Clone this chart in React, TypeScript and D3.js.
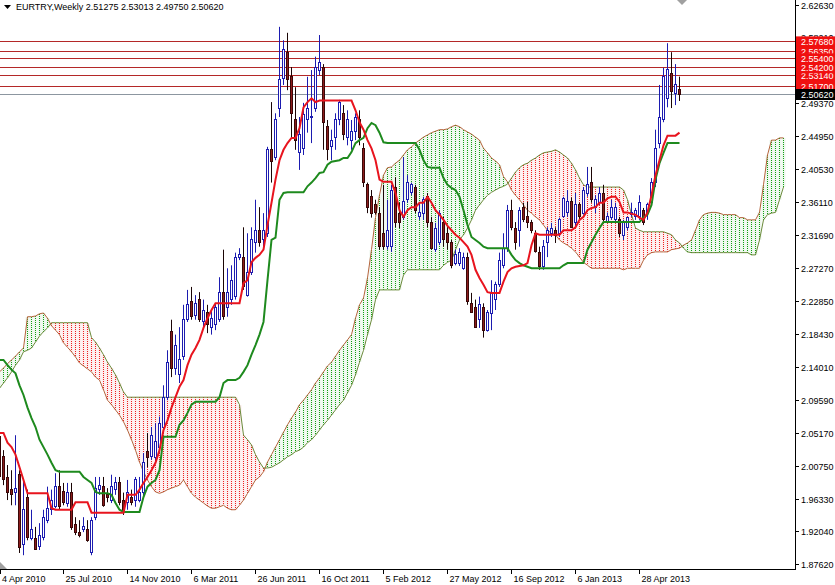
import React from 'react';
import * as d3 from 'd3';

const title = 'EURTRY,Weekly  2.51275 2.53013 2.49750 2.50620';

const openP = [
2.047,2.020,1.992,1.976,1.972,1.996,1.902,1.965,1.911,1.911,
1.900,1.912,1.935,1.949,1.953,1.980,1.973,1.958,1.972,1.929,
1.919,1.922,1.922,1.891,1.938,1.976,1.980,1.969,1.962,1.976,
1.986,1.962,1.959,1.966,1.962,1.962,1.972,2.027,2.020,2.019,
2.032,2.060,2.100,2.188,2.139,2.130,2.154,2.204,2.228,2.210,
2.231,2.201,2.214,2.194,2.197,2.204,2.241,2.221,2.231,2.235,
2.287,2.288,2.237,2.267,2.308,2.324,2.311,2.320,2.432,2.422,
2.488,2.528,2.562,2.530,2.472,2.429,2.434,2.472,2.475,2.488,
2.539,2.542,2.463,2.436,2.449,2.472,2.481,2.449,2.445,2.456,
2.472,2.434,2.385,2.369,2.358,2.347,2.320,2.302,2.302,2.382,
2.347,2.341,2.365,2.375,2.381,2.342,2.347,2.369,2.334,2.298,
2.307,2.334,2.320,2.307,2.280,2.280,2.273,2.287,2.226,2.220,
2.204,2.220,2.190,2.213,2.231,2.251,2.277,2.300,2.351,2.327,
2.324,2.354,2.342,2.334,2.320,2.294,2.275,2.307,2.320,2.324,
2.320,2.342,2.348,2.362,2.334,2.358,2.347,2.374,2.388,2.355,
2.361,2.374,2.335,2.341,2.338,2.338,2.317,2.328,2.345,2.342,
2.342,2.351,2.348,2.361,2.388,2.441,2.472,2.501,2.535,2.508,
2.51275];
const highP = [
2.056,2.029,2.009,2.002,2.049,2.002,1.989,1.976,1.949,1.926,
1.931,1.949,1.980,1.976,1.998,2.002,1.985,1.985,1.985,1.939,
1.935,1.939,1.935,1.939,1.993,1.993,1.993,1.978,1.996,1.993,
1.993,1.972,1.989,1.976,1.993,1.993,2.025,2.052,2.060,2.065,
2.074,2.116,2.163,2.204,2.184,2.194,2.224,2.244,2.248,2.237,
2.241,2.231,2.224,2.217,2.226,2.261,2.298,2.273,2.277,2.294,
2.300,2.328,2.320,2.328,2.365,2.355,2.347,2.436,2.496,2.481,
2.597,2.579,2.589,2.543,2.516,2.476,2.495,2.530,2.539,2.557,
2.586,2.547,2.472,2.459,2.481,2.499,2.492,2.485,2.472,2.481,
2.485,2.441,2.388,2.378,2.365,2.355,2.385,2.365,2.385,2.395,
2.361,2.422,2.398,2.388,2.385,2.361,2.369,2.374,2.342,2.334,
2.351,2.342,2.328,2.311,2.298,2.300,2.294,2.294,2.240,2.231,
2.235,2.226,2.217,2.257,2.255,2.294,2.320,2.358,2.365,2.335,
2.355,2.361,2.362,2.338,2.324,2.302,2.311,2.328,2.334,2.328,
2.341,2.369,2.378,2.368,2.374,2.361,2.382,2.409,2.409,2.371,
2.382,2.385,2.348,2.365,2.361,2.342,2.338,2.342,2.361,2.354,
2.371,2.354,2.361,2.394,2.459,2.519,2.542,2.575,2.563,2.547,
2.53013];
const lowP = [
1.989,1.982,1.962,1.955,1.955,1.891,1.888,1.908,1.908,1.895,
1.895,1.908,1.931,1.942,1.951,1.949,1.955,1.953,1.922,1.915,
1.912,1.919,1.906,1.888,1.935,1.969,1.953,1.959,1.958,1.969,
1.955,1.942,1.949,1.955,1.953,1.959,1.966,2.006,2.016,2.012,
2.025,2.056,2.096,2.127,2.130,2.119,2.150,2.201,2.204,2.204,
2.201,2.193,2.186,2.184,2.190,2.201,2.204,2.208,2.224,2.231,
2.284,2.244,2.235,2.264,2.294,2.302,2.298,2.315,2.388,2.418,
2.476,2.519,2.512,2.449,2.432,2.405,2.425,2.455,2.441,2.483,
2.532,2.432,2.418,2.418,2.432,2.465,2.445,2.438,2.432,2.445,
2.438,2.382,2.347,2.341,2.345,2.298,2.298,2.298,2.295,2.328,
2.327,2.338,2.361,2.371,2.347,2.338,2.338,2.328,2.298,2.295,
2.304,2.302,2.298,2.273,2.277,2.276,2.271,2.224,2.213,2.193,
2.193,2.180,2.188,2.190,2.217,2.248,2.273,2.295,2.324,2.298,
2.302,2.335,2.327,2.320,2.294,2.271,2.271,2.288,2.315,2.307,
2.315,2.341,2.342,2.327,2.328,2.338,2.345,2.369,2.361,2.347,
2.358,2.335,2.334,2.338,2.334,2.315,2.311,2.324,2.342,2.338,
2.338,2.331,2.338,2.358,2.382,2.434,2.469,2.489,2.488,2.492,
2.4975];
const closeP = [
1.993,1.989,1.972,1.969,1.978,1.899,1.949,1.912,1.922,1.895,
1.914,1.938,1.951,1.962,1.980,1.953,1.959,1.972,1.925,1.918,
1.915,1.926,1.908,1.935,1.978,1.982,1.955,1.965,1.980,1.985,
1.959,1.946,1.972,1.959,1.989,1.972,2.012,2.019,2.049,2.040,
2.065,2.100,2.147,2.139,2.170,2.150,2.204,2.224,2.208,2.226,
2.204,2.217,2.197,2.206,2.220,2.241,2.208,2.241,2.257,2.287,
2.291,2.248,2.267,2.311,2.324,2.308,2.324,2.432,2.416,2.472,
2.526,2.566,2.526,2.481,2.445,2.452,2.479,2.488,2.477,2.542,
2.549,2.468,2.432,2.445,2.472,2.495,2.452,2.472,2.456,2.475,
2.449,2.388,2.355,2.347,2.348,2.302,2.302,2.324,2.378,2.334,
2.335,2.362,2.388,2.385,2.351,2.348,2.365,2.334,2.300,2.327,
2.347,2.311,2.307,2.277,2.291,2.294,2.287,2.228,2.214,2.194,
2.224,2.190,2.214,2.240,2.251,2.284,2.300,2.351,2.328,2.308,
2.351,2.338,2.334,2.324,2.295,2.275,2.302,2.324,2.327,2.317,
2.338,2.367,2.362,2.328,2.358,2.342,2.378,2.385,2.365,2.365,
2.374,2.338,2.342,2.355,2.355,2.320,2.334,2.341,2.348,2.351,
2.361,2.335,2.358,2.388,2.434,2.475,2.530,2.540,2.510,2.520,
2.5062];

const tenkan = [
2.052,2.052,2.039,2.033,2.023,2.006,1.989,1.971,1.971,1.971,
1.971,1.971,1.971,1.951,1.949,1.949,1.949,1.949,1.949,1.959,
1.959,1.959,1.959,1.945,1.945,1.945,1.945,1.945,1.945,1.945,
1.945,1.945,1.969,1.969,1.969,1.976,1.985,1.993,2.002,2.012,
2.029,2.056,2.069,2.086,2.100,2.114,2.123,2.143,2.157,2.166,
2.177,2.193,2.206,2.217,2.226,2.226,2.226,2.226,2.226,2.226,
2.226,2.253,2.257,2.281,2.287,2.291,2.298,2.331,2.361,2.392,
2.418,2.432,2.441,2.448,2.448,2.461,2.489,2.496,2.501,2.496,
2.498,2.498,2.498,2.498,2.498,2.498,2.498,2.498,2.498,2.485,
2.469,2.459,2.445,2.434,2.418,2.392,2.389,2.389,2.389,2.374,
2.351,2.342,2.351,2.355,2.355,2.361,2.361,2.369,2.361,2.351,
2.345,2.338,2.330,2.324,2.318,2.314,2.308,2.302,2.291,2.271,
2.260,2.251,2.241,2.240,2.240,2.240,2.255,2.268,2.273,2.275,
2.276,2.277,2.280,2.304,2.320,2.318,2.318,2.318,2.318,2.318,
2.318,2.324,2.324,2.324,2.328,2.338,2.342,2.351,2.354,2.355,
2.361,2.361,2.367,2.369,2.369,2.362,2.348,2.348,2.346,2.345,
2.341,2.338,2.348,2.371,2.398,2.418,2.438,2.451,2.451,2.451,
2.455];

const kijun = [
2.150,2.150,2.143,2.137,2.132,2.116,2.103,2.086,2.072,2.060,
2.043,2.033,2.023,2.012,2.002,2.000,2.000,2.000,2.000,2.000,
2.000,1.993,1.989,1.985,1.973,1.971,1.971,1.971,1.969,1.958,
1.949,1.946,1.946,1.946,1.946,1.946,1.966,1.980,1.985,1.989,
2.002,2.047,2.047,2.047,2.047,2.063,2.069,2.079,2.090,2.094,
2.094,2.094,2.094,2.094,2.094,2.100,2.119,2.123,2.123,2.123,
2.126,2.134,2.143,2.157,2.170,2.184,2.201,2.257,2.311,2.314,
2.365,2.374,2.375,2.375,2.375,2.375,2.375,2.383,2.388,2.394,
2.401,2.402,2.412,2.416,2.417,2.418,2.421,2.421,2.429,2.441,
2.445,2.448,2.461,2.468,2.465,2.455,2.442,2.441,2.441,2.441,
2.441,2.441,2.441,2.441,2.441,2.432,2.418,2.409,2.408,2.408,
2.408,2.394,2.385,2.381,2.378,2.369,2.351,2.331,2.315,2.311,
2.307,2.302,2.300,2.300,2.300,2.300,2.300,2.300,2.291,2.284,
2.280,2.277,2.275,2.273,2.273,2.273,2.273,2.273,2.273,2.273,
2.273,2.277,2.280,2.280,2.280,2.280,2.280,2.298,2.308,2.318,
2.327,2.335,2.335,2.335,2.335,2.335,2.335,2.335,2.335,2.335,
2.335,2.341,2.345,2.358,2.392,2.414,2.428,2.441,2.441,2.441,
2.441];

const spanA = [
2.134,2.139,2.145,2.150,2.155,2.161,2.166,2.208,2.208,2.209,
2.212,2.213,2.206,2.196,2.190,2.184,2.173,2.167,2.161,2.154,
2.146,2.142,2.138,2.134,2.127,2.123,2.110,2.096,2.090,2.083,
2.076,2.067,2.056,2.043,2.029,2.013,2.000,1.989,1.980,1.973,
1.971,1.973,1.976,1.978,1.980,1.982,1.989,1.980,1.971,1.966,
1.962,1.958,1.954,1.951,1.951,1.953,1.955,1.951,1.949,1.949,
1.955,1.962,1.971,1.980,1.989,1.993,2.000,2.013,2.023,2.033,
2.043,2.053,2.063,2.072,2.080,2.090,2.096,2.103,2.110,2.119,
2.126,2.134,2.142,2.147,2.155,2.163,2.170,2.177,2.184,2.206,
2.224,2.233,2.260,2.298,2.341,2.371,2.398,2.408,2.409,2.414,
2.418,2.425,2.432,2.436,2.441,2.445,2.449,2.452,2.455,2.457,
2.459,2.459,2.460,2.463,2.465,2.463,2.459,2.456,2.453,2.449,
2.445,2.434,2.428,2.421,2.417,2.412,2.396,2.389,2.378,2.371,
2.365,2.358,2.351,2.347,2.342,2.338,2.331,2.324,2.320,2.318,
2.311,2.307,2.304,2.300,2.295,2.288,2.281,2.277,2.273,2.273,
2.273,2.273,2.273,2.273,2.273,2.273,2.271,2.273,2.273,2.273,
2.273,2.284,2.291,2.294,2.295,2.295,2.295,2.295,2.298,2.299,
2.300,2.304,2.307,2.311,2.324,2.338,2.345,2.347,2.348,2.348,
2.347,2.345,2.345,2.345,2.345,2.341,2.341,2.338,2.338,2.338,
2.348,2.385,2.425,2.445,2.445,2.448,2.448];

const spanB = [
2.112,2.119,2.126,2.134,2.143,2.150,2.161,2.163,2.166,2.174,
2.182,2.188,2.193,2.200,2.200,2.200,2.200,2.200,2.200,2.200,
2.200,2.200,2.200,2.180,2.174,2.166,2.157,2.147,2.139,2.130,
2.119,2.107,2.100,2.100,2.100,2.100,2.100,2.100,2.100,2.100,
2.100,2.100,2.100,2.100,2.100,2.100,2.100,2.100,2.100,2.100,
2.100,2.100,2.100,2.100,2.100,2.100,2.100,2.100,2.100,2.100,
2.090,2.049,2.043,2.036,2.023,2.013,2.005,2.005,2.006,2.009,
2.012,2.016,2.020,2.023,2.027,2.029,2.033,2.039,2.043,2.049,
2.056,2.063,2.069,2.076,2.083,2.090,2.096,2.106,2.116,2.130,
2.147,2.163,2.184,2.204,2.231,2.244,2.244,2.244,2.244,2.244,
2.244,2.264,2.271,2.271,2.271,2.271,2.271,2.271,2.271,2.271,
2.271,2.277,2.281,2.284,2.298,2.311,2.318,2.327,2.338,2.351,
2.358,2.365,2.371,2.375,2.378,2.381,2.383,2.386,2.394,2.402,
2.408,2.412,2.414,2.418,2.421,2.425,2.428,2.429,2.430,2.432,
2.429,2.425,2.421,2.414,2.405,2.394,2.385,2.382,2.382,2.382,
2.382,2.382,2.382,2.382,2.382,2.382,2.378,2.365,2.345,2.327,
2.324,2.322,2.322,2.322,2.322,2.322,2.322,2.320,2.318,2.311,
2.307,2.300,2.295,2.294,2.294,2.294,2.294,2.294,2.294,2.294,
2.294,2.294,2.294,2.294,2.294,2.294,2.294,2.294,2.291,2.291,
2.311,2.338,2.345,2.347,2.348,2.365,2.382];

const levels = [2.5768, 2.5635, 2.554, 2.5314, 2.542, 2.517];
const lastPrice = 2.5062;
const priceTicks = [2.6263, 2.5821, 2.5379, 2.4937, 2.4495, 2.4053, 2.3611, 2.3169, 2.2727,
  2.2285, 2.1843, 2.1401, 2.0959, 2.0517, 2.0075, 1.9633, 1.9204, 1.8762];
const dateTickBars = [0, 16, 32, 48, 64, 80, 96, 112, 128, 144, 160];
const dateLabels = ['4 Apr 2010', '25 Jul 2010', '14 Nov 2010', '6 Mar 2011', '26 Jun 2011',
  '16 Oct 2011', '5 Feb 2012', '27 May 2012', '16 Sep 2012', '6 Jan 2013', '28 Apr 2013'];

const W = 835, H = 585, AX = 795, AY = 569;
const FONT = "'Liberation Sans', Arial, sans-serif";

export default function App() {
  const x = d3.scaleLinear().domain([0, 170]).range([-0.5, 679.5]);
  const y = d3.scaleLinear().domain([1.8762, 2.6263]).range([564, 5]);
  const sy = (v: number) => Math.round(y(v) - 0.5) + 0.5;
  const fmt = d3.format('.5f');
  const lineGen = d3.line<number>().x((_, i) => x(i)).y(d => y(d));

  const cloud = spanA.map((a, i) => {
    const b = spanB[i];
    const y1 = Math.round(Math.min(y(a), y(b)));
    const y2 = Math.round(Math.max(y(a), y(b)));
    if (y2 - y1 < 1) return null;
    const green = a >= b;
    return (
      <g key={'c' + i}>
        <rect x={x(i) - 2} y={y1} width={4} height={y2 - y1} fill={green ? '#eef8ee' : '#fdeeee'} />
        <line x1={x(i)} x2={x(i)} y1={y1} y2={y2}
          stroke={green ? '#12a012' : '#ee2020'} strokeWidth={1} strokeDasharray="1 1" />
      </g>
    );
  });

  const candles = closeP.map((c, i) => {
    const o = openP[i], h = highP[i], l = lowP[i];
    const cx = x(i);
    const bull = c >= o;
    const top = sy(Math.max(o, c)), bot = sy(Math.min(o, c));
    return (
      <g key={'k' + i}>
        <line x1={cx} x2={cx} y1={y(h)} y2={y(l)} stroke={bull ? '#1c1cb0' : '#1a0505'} strokeWidth={1} />
        <rect x={cx - 1} y={top} width={2} height={Math.max(bot - top, 0.01)}
          fill={bull ? '#ffffff' : '#8c1c1c'} stroke={bull ? '#1c1cb0' : '#3a0808'} strokeWidth={1} />
      </g>
    );
  });

  return (
    <svg width={W} height={H} style={{ position: 'absolute', left: 0, top: 0, background: '#fff' }}
      fontFamily={FONT} fontSize={9}>
      <defs>
        <clipPath id="plotclip"><rect x={0} y={0} width={AX} height={AY} /></clipPath>
      </defs>
      <rect x={0} y={0} width={W} height={H} fill="#fff" />
      <g clipPath="url(#plotclip)">
        {cloud}
        <path d={lineGen(spanA) || ''} fill="none" stroke="#b4643c" strokeWidth={1} />
        <path d={lineGen(spanB) || ''} fill="none" stroke="#6a8a3a" strokeWidth={1} />
        {levels.map((v, i) => (
          <line key={'lv' + i} x1={0} x2={AX} y1={sy(v)} y2={sy(v)} stroke="#b42828" strokeWidth={1} />
        ))}
        <line x1={0} x2={AX} y1={sy(lastPrice)} y2={sy(lastPrice)} stroke="#8c96a0" strokeWidth={1} />
        {candles}
        <path d={lineGen(kijun) || ''} fill="none" stroke="#1e8a1e" strokeWidth={2} />
        <path d={lineGen(tenkan) || ''} fill="none" stroke="#e8141e" strokeWidth={2} />
      </g>
      <line x1={AX + 0.5} x2={AX + 0.5} y1={0} y2={AY + 1} stroke="#000" />
      <line x1={0} x2={AX + 1} y1={AY + 0.5} y2={AY + 0.5} stroke="#000" />
      {priceTicks.map((v, i) => (
        <g key={'pt' + i}>
          <line x1={AX} x2={AX + 4} y1={sy(v)} y2={sy(v)} stroke="#000" />
          <text x={AX + 6} y={y(v) + 3.5} fill="#000">{fmt(v)}</text>
        </g>
      ))}
      {levels.map((v, i) => (
        <g key={'ll' + i}>
          <rect x={AX + 1} y={y(v) - 5.5} width={W - AX - 1} height={11} fill="#f01010" />
          <text x={AX + 6} y={y(v) + 3.5} fill="#fff">{fmt(v)}</text>
        </g>
      ))}
      <rect x={AX + 1} y={y(lastPrice) - 5.5} width={W - AX - 1} height={11} fill="#000" />
      <text x={AX + 6} y={y(lastPrice) + 3.5} fill="#fff">{fmt(lastPrice)}</text>
      {dateTickBars.map((b, i) => (
        <g key={'dt' + i}>
          <line x1={Math.max(x(b), 0.5)} x2={Math.max(x(b), 0.5)} y1={AY} y2={AY + 5} stroke="#000" />
          <text x={Math.max(x(b), 0) + 2} y={582} fill="#000">{dateLabels[i]}</text>
        </g>
      ))}
      <path d="M4,5 L11,5 L7.5,9 Z" fill="#000" />
      <text x={16} y={10} fill="#000">{title}</text>
      <path d="M677,0 L687,0 L682,5 Z" fill="#a0a0a0" />
      <path d="M0,562 L0,569 L7,569 Z" fill="#a0a0a0" />
    </svg>
  );
}
